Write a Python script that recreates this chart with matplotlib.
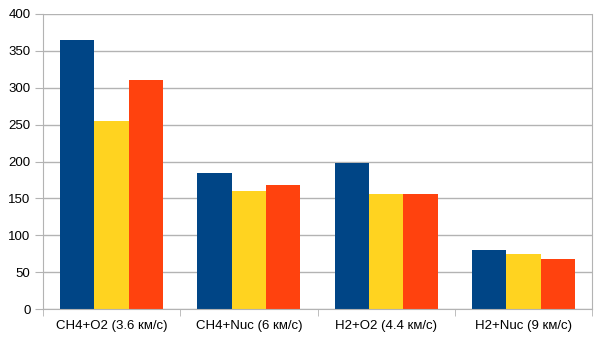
import numpy as np
import matplotlib.pyplot as plt

categories = ['CH4+O2 (3.6 км/с)', 'CH4+Nuc (6 км/с)', 'H2+O2 (4.4 км/с)', 'H2+Nuc (9 км/с)']
series1 = [365, 184, 198, 80]
series2 = [255, 160, 156, 75]
series3 = [310, 168, 156, 68]
colors = ['#004586', '#ffd320', '#ff420e']

plt.rcParams['font.family'] = ['Liberation Sans', 'DejaVu Sans']
plt.rcParams['font.size'] = 9.5

fig = plt.figure(figsize=(6.05, 3.53), dpi=100)
ax = fig.add_axes([43 / 605, 1 - 309 / 353, (592 - 43) / 605, (309 - 14) / 353])

x = np.arange(len(categories))
w = 0.25
for i, (vals, c) in enumerate(zip([series1, series2, series3], colors)):
    ax.bar(x + (i - 1) * w, vals, width=w, color=c, zorder=2)

ax.set_xlim(-0.5, len(categories) - 0.5)
ax.set_ylim(0, 400)
ax.set_yticks(range(0, 401, 50))
ax.set_xticks(x)
ax.set_xticklabels(categories)
ax.set_xticks(np.arange(-0.5, len(categories), 1), minor=True)
ax.tick_params(axis='x', which='major', length=0, pad=8)
ax.tick_params(axis='x', which='minor', length=5, color='#b3b3b3')
ax.tick_params(axis='y', length=6, color='#b3b3b3', pad=3)
ax.yaxis.grid(True, color='#b3b3b3', linewidth=1, zorder=0)
for s in ax.spines.values():
    s.set_color('#b3b3b3')
ax.spines['top'].set_visible(False)

fig.savefig('out.png', dpi=100)
